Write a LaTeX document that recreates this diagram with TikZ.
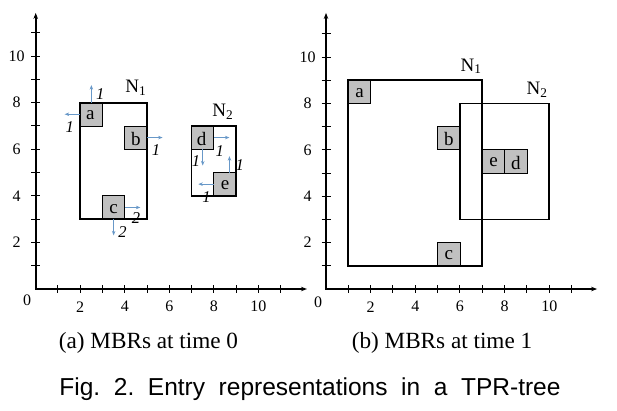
\documentclass[tikz,border=0pt]{standalone}
\usepackage{fontspec}
\setmainfont{Liberation Serif}
\newfontfamily\capfont{Liberation Sans}
\usetikzlibrary{arrows.meta}
\definecolor{boxgray}{RGB}{192,192,192}
\definecolor{velblue}{RGB}{104,152,200}
\tikzset{
 axisline/.style={line width=1.7pt, line join=miter, arrows={Stealth[length=6pt,width=4.5pt]-Stealth[length=6pt,width=4.5pt]}},
 tickline/.style={line width=1pt},
 mbr/.style={draw=black, line width=1.8pt},
 entrybox/.style={draw=black, fill=boxgray, line width=0.8pt},
 vel/.style={draw=velblue, line width=0.8pt, -{Stealth[length=4.5pt,width=3.5pt]}},
 vlab/.style={font=\fontsize{16.5}{16.5}\selectfont\itshape, inner sep=0pt},
 ticklab/.style={font=\fontsize{16}{16}\selectfont, inner sep=0pt},
 elab/.style={font=\fontsize{19}{19}\selectfont, inner sep=0pt},
 nlab/.style={font=\fontsize{19}{19}\selectfont, inner sep=0pt},
 subcap/.style={font=\fontsize{23.2}{23.2}\selectfont, inner sep=0pt, anchor=base},
 figcap/.style={font=\capfont\fontsize{24.5}{25}\selectfont, inner sep=0pt, anchor=base},
}
\begin{document}
\begin{tikzpicture}
\useasboundingbox (0pt,0pt) rectangle (617pt,-410pt);
% ---------- (a) ----------
\begin{scope}[shift={(35.7pt,-289pt)}, x=22.27pt, y=23.3pt]
 \coordinate (O1) at (0,0);
 \coordinate (X1) at (12.18,0);
 \coordinate (Y1) at (0,11.85);
 \foreach \i in {1,...,11} {
   \draw[tickline] (\i,0) ++(0,4pt) -- ++(0,-8pt);
   \draw[tickline] (0,\i) ++(-4.5pt,0) -- ++(9pt,0);
 }
 \draw[axisline] (Y1) -- (O1) -- (X1);
 \foreach \i in {2,4,...,10} {
   \node[ticklab] (ax\i) at ([yshift=-17.7pt]\i,0) {\i};
   \node[ticklab] (ay\i) at ([xshift=-19pt]0,\i) {\i};
 }
 \node[ticklab] (az) at ([xshift=-8.7pt,yshift=-11pt]0,0) {0};
 % entries
 \draw[entrybox] (2,7) rectangle (3,8);
 \draw[entrybox] (4,6) rectangle (5,7);
 \draw[entrybox] (3,3) rectangle (4,4);
 \draw[entrybox] (7,6) rectangle (8,7);
 \draw[entrybox] (8,4) rectangle (9,5);
 \draw[mbr] (2,3) rectangle (5,8);
 \draw[mbr] (7,4) rectangle (9,7);
 \node[elab] (ea) at (2.45,7.45) {a};
 \node[elab] (eb) at (4.5,6.45) {b};
 \node[elab] (ec) at (3.5,3.45) {c};
 \node[elab] (ed) at (7.45,6.45) {d};
 \node[elab] (ee) at (8.5,4.45) {e};
 \node[nlab] (n1a) at (4.5,8.62) {N\textsubscript{1}};
 \node[nlab] (n2a) at (8.4,7.62) {N\textsubscript{2}};
 % velocities
 \coordinate (aus) at (2.5,8); \coordinate (aue) at (2.5,8.75);
 \coordinate (als) at (2,7.5); \coordinate (ale) at (1.3,7.5);
 \coordinate (brs) at (5,6.5); \coordinate (bre) at (5.7,6.5);
 \coordinate (crs) at (4,3.5); \coordinate (cre) at (4.7,3.5);
 \coordinate (cds) at (3.5,3); \coordinate (cde) at (3.5,2.3);
 \coordinate (drs) at (8,6.5); \coordinate (dre) at (8.7,6.5);
 \coordinate (dds) at (7.5,6); \coordinate (dde) at (7.5,5.3);
 \coordinate (eus) at (8.7,5); \coordinate (eue) at (8.7,5.7);
 \coordinate (els) at (8,4.5); \coordinate (ele) at (7.3,4.5);
 \draw[vel] (aus) -- (aue);
 \draw[vel] (als) -- (ale);
 \draw[vel] (brs) -- (bre);
 \draw[vel] (crs) -- (cre);
 \draw[vel] (cds) -- (cde);
 \draw[vel] (drs) -- (dre);
 \draw[vel] (dds) -- (dde);
 \draw[vel] (eus) -- (eue);
 \draw[vel] (els) -- (ele);
 \node[vlab] (l1) at (2.9,8.37) {1};
 \node[vlab] (l2) at (1.53,6.95) {1};
 \node[vlab] (l3) at (5.4,5.97) {1};
 \node[vlab] (l4) at (4.5,3.04) {2};
 \node[vlab] (l5) at (3.9,2.45) {2};
 \node[vlab] (l6) at (8.26,5.9) {1};
 \node[vlab] (l7) at (7.2,5.5) {1};
 \node[vlab] (l8) at (9.16,5.3) {1};
 \node[vlab] (l9) at (7.67,3.95) {1};
\end{scope}
% ---------- (b) ----------
\begin{scope}[shift={(326pt,-289pt)}, x=22.33pt, y=23.2pt]
 \coordinate (O2) at (0,0);
 \coordinate (X2) at (12.14,0);
 \coordinate (Y2) at (0,11.9);
 \foreach \i in {1,...,11} {
   \draw[tickline] (\i,0) ++(0,4pt) -- ++(0,-8pt);
   \draw[tickline] (0,\i) ++(-4.5pt,0) -- ++(9pt,0);
 }
 \draw[axisline] (Y2) -- (O2) -- (X2);
 \foreach \i in {2,4,...,10} {
   \node[ticklab] (bx\i) at ([yshift=-17.7pt]\i,0) {\i};
   \node[ticklab] (by\i) at ([xshift=-18.5pt]0,\i) {\i};
 }
 \node[ticklab] (bz) at ([xshift=-8pt,yshift=-13pt]0,0) {0};
 \draw[entrybox] (1,8) rectangle (2,9);
 \draw[entrybox] (5,6) rectangle (6,7);
 \draw[entrybox] (5,1) rectangle (6,2);
 \draw[entrybox] (7,5) rectangle (8,6);
 \draw[entrybox] (8,5) rectangle (9,6);
 \draw[mbr] (1,1) rectangle (7,9);
 \draw[mbr] (6,3) rectangle (10,8);
 \node[elab] (fa) at (1.5,8.45) {a};
 \node[elab] (fb) at (5.5,6.45) {b};
 \node[elab] (fc) at (5.5,1.45) {c};
 \node[elab] (fe) at (7.5,5.45) {e};
 \node[elab] (fd) at (8.5,5.45) {d};
 \node[nlab] (n1b) at (6.5,9.6) {N\textsubscript{1}};
 \node[nlab] (n2b) at (9.45,8.6) {N\textsubscript{2}};
\end{scope}
% ---------- captions ----------
\node[subcap] (capa) at (148.5pt,-348pt) {(a) MBRs at time 0};
\node[subcap] (capb) at (442pt,-348pt) {(b) MBRs at time 1};
\node[figcap] (capf) at (310pt,-395pt) {Fig.\ \ 2.\ \ Entry\ \ representations\ \ in\ \ a\ \ TPR-tree};
\end{tikzpicture}
\end{document}
